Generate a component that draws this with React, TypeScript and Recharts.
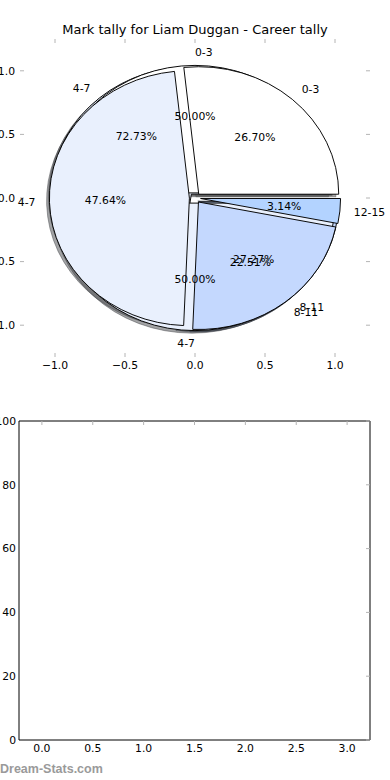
import React from 'react';
import { PieChart, Pie, Cell, ScatterChart, Scatter, XAxis, YAxis } from 'recharts';

// ---------------- data ----------------
const careerCategories = ['0-3', '4-7', '8-11', '12-15'];
const careerCounts = [51, 91, 43, 6];
const seasonOneCategories = ['4-7', '8-11'];
const seasonOneCounts = [8, 3];
const seasonTwoCategories = ['0-3', '4-7'];
const seasonTwoCounts = [1, 1];

const pieAxisTicks = [-1, -0.5, 0, 0.5, 1];
const bottomXTicks = [0, 0.5, 1, 1.5, 2, 2.5, 3];
const bottomYTicks = [0, 20, 40, 60, 80, 100];

const TITLE = 'Mark tally for Liam Duggan - Career tally';
const WATERMARK = 'Dream-Stats.com';

// ---------------- styles ----------------
const CATEGORY_COLORS: Record<string, string> = {
  '0-3': '#ffffff',
  '4-7': '#e9f0fd',
  '8-11': '#c4d8fe',
  '12-15': '#b3d3ff',
};
const shadowOf = (hex: string) => {
  const n = parseInt(hex.slice(1), 16);
  const r = Math.round(((n >> 16) & 255) * 0.3);
  const g = Math.round(((n >> 8) & 255) * 0.3);
  const b = Math.round((n & 255) * 0.3);
  return `rgb(${r},${g},${b})`;
};

const FONT = 'DejaVu Sans';
const FS = 10.8;
const R = 140;
const S = 127.5 / 140;
const CX = 195;
const CY = 198 / S;
const EXPLODE = 0.04;
const SH_DX = -0.02 * R;
const SH_DY = 0.02 * R;
const RAD = Math.PI / 180;

type PieDef = { cats: string[]; counts: number[] };
const pies: PieDef[] = [
  { cats: seasonOneCategories, counts: seasonOneCounts },
  { cats: seasonTwoCategories, counts: seasonTwoCounts },
  { cats: careerCategories, counts: careerCounts },
];

const toData = (p: PieDef) => p.cats.map((name, i) => ({ name, value: p.counts[i] }));

const midAngles = (counts: number[]) => {
  const total = counts.reduce((a, b) => a + b, 0);
  let acc = 0;
  return counts.map((v) => {
    const m = ((acc + v / 2) / total) * 360;
    acc += v;
    return m;
  });
};

const slicePies = (p: PieDef, pi: number, mode: 'shadow' | 'wedge') => {
  const data = toData(p);
  const mids = midAngles(p.counts);
  return data.map((d, i) => {
    let cx = CX + EXPLODE * R * Math.cos(mids[i] * RAD);
    let cy = CY - EXPLODE * R * Math.sin(mids[i] * RAD);
    if (mode === 'shadow') {
      cx += SH_DX;
      cy += SH_DY;
    }
    const base = CATEGORY_COLORS[d.name];
    const fill = mode === 'shadow' ? shadowOf(base) : base;
    return (
      <Pie
        key={`${mode}-${pi}-${i}`}
        data={data}
        dataKey="value"
        nameKey="name"
        cx={cx}
        cy={cy}
        innerRadius={0}
        outerRadius={R}
        startAngle={0}
        endAngle={360}
        paddingAngle={0}
        isAnimationActive={false}
        label={false}
        labelLine={false}
      >
        {data.map((e, j) => (
          <Cell
            key={j}
            fill={j === i ? fill : 'none'}
            fillOpacity={mode === 'shadow' ? 0.5 : 1}
            stroke={j === i ? (mode === 'shadow' ? fill : '#000') : 'none'}
            strokeOpacity={mode === 'shadow' ? 0.5 : 1}
            strokeWidth={1}
          />
        ))}
      </Pie>
    );
  });
};

const makeLabel = (p: PieDef) => (props: any) => {
  const { cx, cy, midAngle, outerRadius, index, percent } = props;
  const c = Math.cos(midAngle * RAD);
  const s = Math.sin(midAngle * RAD);
  const r1 = outerRadius * (1.1 + EXPLODE);
  const r2 = outerRadius * (0.6 + EXPLODE);
  const x1 = cx + r1 * c;
  const y1 = cy - r1 * s;
  const x2 = cx + r2 * c;
  const y2 = cy - r2 * s;
  const txt = { fontFamily: FONT, fontSize: FS, fill: '#000' };
  return (
    <g key={`lab-${index}`}>
      <text
        transform={`translate(${x1} ${y1}) scale(1 ${1 / S})`}
        textAnchor={c > 0 ? 'start' : 'end'}
        dominantBaseline="central"
        {...txt}
      >
        {p.cats[index]}
      </text>
      <text
        transform={`translate(${x2} ${y2}) scale(1 ${1 / S})`}
        textAnchor="middle"
        dominantBaseline="central"
        {...txt}
      >
        {`${(percent * 100).toFixed(2)}%`}
      </text>
    </g>
  );
};

const labelPie = (p: PieDef, pi: number) => (
  <Pie
    key={`label-${pi}`}
    data={toData(p)}
    dataKey="value"
    nameKey="name"
    cx={CX}
    cy={CY}
    innerRadius={0}
    outerRadius={R}
    startAngle={0}
    endAngle={360}
    fill="none"
    stroke="none"
    isAnimationActive={false}
    labelLine={false}
    label={makeLabel(p)}
  />
);

const fmt1 = (v: number) => (v < 0 ? '\u2212' : '') + Math.abs(v).toFixed(1);
const tickText = { fill: '#000', fontSize: FS, fontFamily: FONT };
const tickMark = { stroke: '#b4b4b4', strokeWidth: 1 };
const Empty = () => <g />;

export default function App() {
  return (
    <div style={{ position: 'absolute', left: 0, top: 0, width: 390, height: 780, background: '#fff', overflow: 'hidden' }}>
      {/* title */}
      <div
        style={{
          position: 'absolute', left: 0, top: 23, width: 390, textAlign: 'center',
          fontFamily: FONT, fontSize: 13, lineHeight: '13px', color: '#000', whiteSpace: 'nowrap',
        }}
      >
        {TITLE}
      </div>

      {/* pie panel axes */}
      <div style={{ position: 'absolute', left: 0, top: 0 }}>
        <ScatterChart width={390} height={380} margin={{ top: 38, right: 19, bottom: 0, left: 0 }}>
          <XAxis
            type="number" dataKey="x" domain={[-1.25, 1.25]} allowDataOverflow ticks={pieAxisTicks}
            interval={0} tickFormatter={fmt1} height={23} axisLine={false}
            tickSize={-4} tickMargin={8} tick={tickText} tickLine={tickMark}
          />
          <XAxis
            xAxisId="top" orientation="top" type="number" dataKey="x" domain={[-1.25, 1.25]} allowDataOverflow
            ticks={pieAxisTicks} interval={0} height={1} axisLine={false}
            tickSize={-4} tick={<Empty />} tickLine={tickMark}
          />
          <YAxis
            type="number" dataKey="y" domain={[-1.25, 1.25]} allowDataOverflow ticks={pieAxisTicks}
            interval={0} tickFormatter={fmt1} width={20} axisLine={false}
            tickSize={-4} tickMargin={9} tick={tickText} tickLine={tickMark}
          />
          <YAxis
            yAxisId="right" orientation="right" type="number" dataKey="y" domain={[-1.25, 1.25]} allowDataOverflow
            ticks={pieAxisTicks} interval={0} width={1} axisLine={false}
            tickSize={-4} tick={<Empty />} tickLine={tickMark}
          />
          <Scatter data={[]} isAnimationActive={false} />
        </ScatterChart>
      </div>

      {/* pies (vertically scaled to an ellipse like the original axes) */}
      <div style={{ position: 'absolute', left: 0, top: 0, transform: `scaleY(${S})`, transformOrigin: '0 0' }}>
        <PieChart width={390} height={420} margin={{ top: 0, right: 0, bottom: 0, left: 0 }}>
          {pies.map((p, pi) => slicePies(p, pi, 'shadow'))}
          {pies.map((p, pi) => slicePies(p, pi, 'wedge'))}
          {pies.map((p, pi) => labelPie(p, pi))}
        </PieChart>
      </div>

      {/* bottom empty panel */}
      <div style={{ position: 'absolute', left: 0, top: 400 }}>
        <ScatterChart width={390} height={380} margin={{ top: 20, right: 19, bottom: 0, left: 0 }}>
          <XAxis
            type="number" dataKey="x" domain={[-0.225, 3.225]} allowDataOverflow ticks={bottomXTicks}
            interval={0} tickFormatter={fmt1} height={40}
            axisLine={{ stroke: '#000', strokeWidth: 1 }}
            tickSize={-4} tickMargin={8} tick={tickText} tickLine={false}
          />
          <XAxis
            xAxisId="top" orientation="top" type="number" dataKey="x" domain={[-0.225, 3.225]} allowDataOverflow
            ticks={bottomXTicks} interval={0} height={1}
            axisLine={{ stroke: '#000', strokeWidth: 1 }}
            tickSize={-4} tick={<Empty />} tickLine={tickMark}
          />
          <YAxis
            type="number" dataKey="y" domain={[0, 100]} allowDataOverflow ticks={bottomYTicks}
            interval={0} width={19}
            axisLine={{ stroke: '#000', strokeWidth: 1 }}
            tickSize={-4} tickMargin={7} tick={tickText} tickLine={false}
          />
          <YAxis
            yAxisId="right" orientation="right" type="number" dataKey="y" domain={[0, 100]} allowDataOverflow
            ticks={bottomYTicks} interval={0} width={1}
            axisLine={{ stroke: '#000', strokeWidth: 1 }}
            tickSize={-4} tick={<Empty />} tickLine={tickMark}
          />
          <Scatter data={[]} isAnimationActive={false} />
        </ScatterChart>
      </div>

      {/* watermark */}
      <div
        style={{
          position: 'absolute', left: 0, top: 763, fontFamily: 'Liberation Sans', fontWeight: 'bold',
          fontSize: 12.5, lineHeight: '12.5px', color: '#9a9a9a', whiteSpace: 'nowrap',
        }}
      >
        {WATERMARK}
      </div>
    </div>
  );
}
